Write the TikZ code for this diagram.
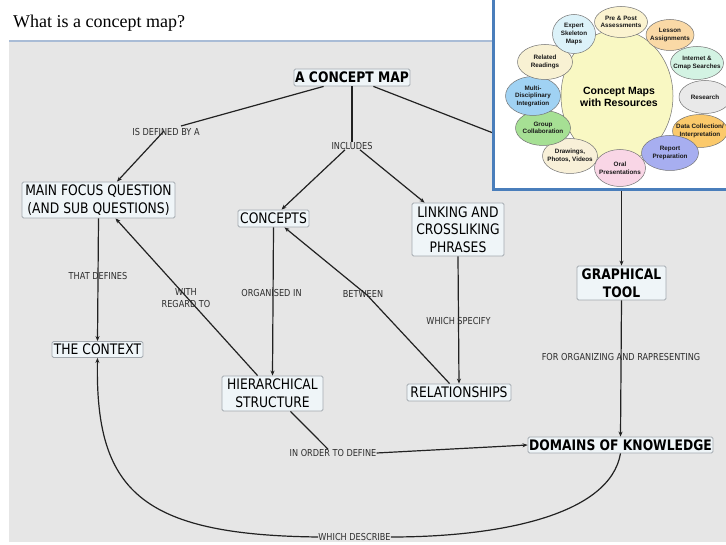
\documentclass[tikz,border=0pt]{standalone}
\usepackage{fontspec}
\setmainfont{Liberation Serif}
\newfontfamily\cmfont[FakeStretch=0.85]{DejaVu Sans}
\newfontfamily\insfont{Liberation Sans}
\usetikzlibrary{arrows.meta,calc,shapes.geometric}
\definecolor{bggray}{HTML}{E6E6E6}
\definecolor{boxfill}{HTML}{EFF5F8}
\definecolor{boxborder}{HTML}{A4AAB0}
\definecolor{linecol}{HTML}{222222}
\definecolor{lbltext}{HTML}{2E2E2E}
\definecolor{titleline}{HTML}{A9BCD6}
\definecolor{frameblue}{HTML}{4A7EBB}
\definecolor{cPre}{HTML}{FBF3D0}
\definecolor{cLesson}{HTML}{FAD9A6}
\definecolor{cInternet}{HTML}{D3F3E3}
\definecolor{cResearch}{HTML}{E9E9E9}
\definecolor{cData}{HTML}{FBC96B}
\definecolor{cReport}{HTML}{A7AEF0}
\definecolor{cOral}{HTML}{F9D6E6}
\definecolor{cDraw}{HTML}{F8F0D8}
\definecolor{cGroup}{HTML}{A6E094}
\definecolor{cMulti}{HTML}{A0D2F3}
\definecolor{cRelated}{HTML}{F8F1D3}
\definecolor{cExpert}{HTML}{DCF2F9}
\definecolor{cBig}{HTML}{F9F8C3}
\tikzset{
  cbox/.style={draw=boxborder, fill=boxfill, rounded corners=1.5pt, inner sep=0pt,
    align=center, text=black, line width=0.8pt,
    font=\cmfont\fontsize{14.5}{17.7}\selectfont},
  bbox/.style={cbox, font=\cmfont\bfseries\fontsize{14.5}{17.7}\selectfont},
  lbl/.style={inner sep=0pt, align=center, text=lbltext,
    font=\cmfont\fontsize{9.6}{11.5}\selectfont},
  conn/.style={draw=linecol, line width=1.2pt},
  arr/.style={conn, -{Stealth[length=5pt,width=4pt]}},
  ell/.style={ellipse, draw=black!55, line width=0.5pt, inner sep=0pt},
  instext/.style={inner sep=0pt, align=center, text=black!90,
    font=\insfont\bfseries\fontsize{6.3}{7.6}\selectfont},
}
\begin{document}
\begin{tikzpicture}[x=1pt,y=-1pt]
\useasboundingbox (0,0) rectangle (726,545);
\fill[white] (0,0) rectangle (726,545);
\fill[bggray] (9,42) rectangle (726,542);
\draw[titleline, line width=1.5pt] (9,41) -- (493,41);
\node[anchor=base west, inner sep=0pt, font=\fontsize{18}{20}\selectfont] (title) at (13,28) {What is a concept map?};

% concepts
\node[bbox, minimum width=116pt, minimum height=17pt] (map) at (352,77.5) {A CONCEPT MAP};
\node[cbox, minimum width=153pt, minimum height=36pt] (mfq) at (98.5,200) {MAIN FOCUS QUESTION\\(AND SUB QUESTIONS)};
\node[cbox, minimum width=71pt, minimum height=17pt] (concepts) at (273.5,218.5) {CONCEPTS};
\node[cbox, minimum width=92pt, minimum height=53pt] (linking) at (458,229.5) {LINKING AND\\CROSSLIKING\\PHRASES};
\node[cbox, minimum width=91pt, minimum height=16pt] (context) at (97.5,349.5) {THE CONTEXT};
\node[cbox, minimum width=101pt, minimum height=35pt] (hier) at (272.5,393.5) {HIERARCHICAL\\STRUCTURE};
\node[cbox, minimum width=104pt, minimum height=17pt] (rel) at (459,392.5) {RELATIONSHIPS};
\node[bbox, minimum width=89pt, minimum height=34pt] (tool) at (621.5,283) {GRAPHICAL\\TOOL};
\node[bbox, minimum width=185pt, minimum height=16pt] (domains) at (620.5,445) {DOMAINS OF KNOWLEDGE};

% linking phrases
\node[lbl] (isdef) at (166,132) {IS DEFINED BY A};
\node[lbl] (includes) at (352,146) {INCLUDES};
\node[lbl] (thatdef) at (98,276) {THAT DEFINES};
\node[lbl] (withreg) at (186,298) {WITH\\REGARD TO};
\node[lbl] (organised) at (271.5,293) {ORGANISED IN};
\node[lbl] (between) at (363,294) {BETWEEN};
\node[lbl] (whichspec) at (458.5,321) {WHICH SPECIFY};
\node[lbl] (fororg) at (621,357) {FOR ORGANIZING AND RAPRESENTING};
\node[lbl] (inorder) at (333,453) {IN ORDER TO DEFINE};
\node[lbl] (whichdesc) at (354.5,537) {WHICH DESCRIBE};

% connectors
\draw[conn] ($(map.south west)+(30,0)$) -- ($(isdef.center)+(15,-6)$);
\draw[arr] ($(isdef.center)+(-2,-1)$) -- ($(mfq.north)+(18.5,0)$);
\draw[conn] (map.south) -- (includes.north);
\draw[arr] ($(includes.south)+(-7,0)$) -- ($(concepts.north)+(8,0)$);
\draw[arr] ($(includes.south)+(8,0)$) -- ($(linking.north west)+(13,0)$);
\coordinate (hidden) at (621.5,183);
\draw[conn] ($(map.south east)+(-37,0)$) -- (hidden);
\draw[arr] (hidden) -- (tool.north);
\draw[arr] (mfq.south) -- (context.north);
\draw[arr] ($(hier.north west)+(36,0)$) -- ($(mfq.south)+(17,0)$);
\draw[arr] (concepts.south) -- (hier.north);
\draw[arr] ($(rel.north west)+(43,0)$) -- ($(between.center)+(4,1)$) -- ($(concepts.south)+(11,0)$);
\draw[arr] (linking.south) -- (rel.north);
\draw[arr] (tool.south) -- (domains.north);
\draw[conn] ($(hier.south)+(18,0)$) -- ($(inorder.north)+(-5,0)$);
\draw[arr] (inorder.east) -- (domains.west);
\draw[conn] (domains.south) .. controls (610,515) and (500,537) .. (whichdesc.east);
\draw[arr] (whichdesc.west) .. controls (140,535) and (95,490) .. (context.south);

% inset picture
\draw[frameblue, line width=3pt, fill=white] (493.5,-3) rectangle (730,189.5);
\node[ell, fill=cBig, minimum width=112pt, minimum height=132pt] (big) at (617,96) {};
\node[inner sep=0pt, align=center, font=\insfont\bfseries\fontsize{10.5}{12.5}\selectfont] (bigtxt) at (619,97) {Concept Maps\\with Resources};
\node[ell, fill=cPre, minimum width=53pt, minimum height=31pt] (pre) at (621,22) {};
\node[instext] at (pre) {Pre \& Post\\Assessments};
\node[ell, fill=cLesson, minimum width=48pt, minimum height=31pt] (lesson) at (670,35) {};
\node[instext] at (lesson) {Lesson\\Assignments};
\node[ell, fill=cInternet, minimum width=53pt, minimum height=33pt] (internet) at (697,63) {};
\node[instext] at (internet) {Internet \&\\Cmap Searches};
\node[ell, fill=cResearch, minimum width=52pt, minimum height=33pt] (research) at (705,97) {};
\node[instext] at (research) {Research};
\node[ell, fill=cData, minimum width=55pt, minimum height=33pt] (data) at (700,131) {};
\node[instext] at (data) {Data Collection/\\Interpretation};
\node[ell, fill=cReport, minimum width=57pt, minimum height=35pt] (report) at (670,153) {};
\node[instext] at (report) {Report\\Preparation};
\node[ell, fill=cDraw, minimum width=55pt, minimum height=35pt] (draw) at (570,156) {};
\node[instext] at (draw) {Drawings,\\Photos, Videos};
\node[ell, fill=cOral, minimum width=51pt, minimum height=37pt] (oral) at (620,168) {};
\node[instext] at (oral) {Oral\\Presentations};
\node[ell, fill=cGroup, minimum width=55pt, minimum height=35pt] (group) at (543,128) {};
\node[instext] at (group) {Group\\Collaboration};
\node[ell, fill=cMulti, minimum width=55pt, minimum height=39pt] (multi) at (533,96) {};
\node[instext] at (multi) {Multi-\\Disciplinary\\Integration};
\node[ell, fill=cRelated, minimum width=55pt, minimum height=35pt] (related) at (545,62) {};
\node[instext] at (related) {Related\\Readings};
\node[ell, fill=cExpert, minimum width=43pt, minimum height=39pt] (expert) at (574,34) {};
\node[instext] at (expert) {Expert\\Skeleton\\Maps};
\draw[frameblue, line width=3pt] (493.5,-3) rectangle (730,189.5);
\end{tikzpicture}
\end{document}
